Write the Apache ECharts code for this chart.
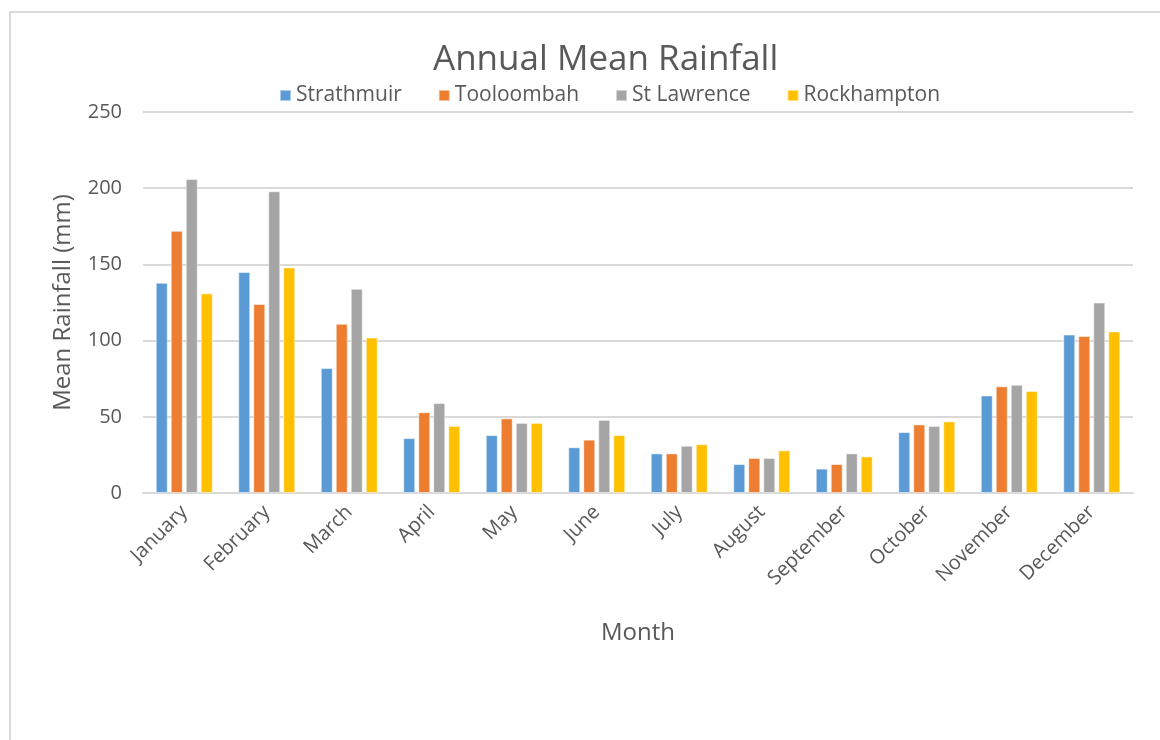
<!DOCTYPE html>
<html>
<head>
<meta charset="utf-8">
<script src="https://cdn.jsdelivr.net/npm/echarts@6/dist/echarts.min.js"></script>
<style>
  html, body { margin: 0; padding: 0; background: #fff; }
  .frame {
    position: absolute; left: 9px; top: 11px; width: 1160px; height: 740px;
    border-left: 2px solid #d9d9d9; border-top: 2px solid #d9d9d9;
  }
  #chart { position: absolute; left: 0; top: 0; width: 1160px; height: 740px; }
</style>
</head>
<body>
<div class="frame"></div>
<div id="chart"></div>
<script>
// 月份
const months = ['January', 'February', 'March', 'April', 'May', 'June',
  'July', 'August', 'September', 'October', 'November', 'December'];
// 各站点月均降雨 (mm)
const strathmuir = [138, 145, 82, 36, 38, 30, 26, 19, 16, 40, 64, 104];
const tooloombah = [172, 124, 111, 53, 49, 35, 26, 23, 19, 45, 70, 103];
const stLawrence = [206, 198, 134, 59, 46, 48, 31, 23, 26, 44, 71, 125];
const rockhampton = [131, 148, 102, 44, 46, 38, 32, 28, 24, 47, 67, 106];
const yTicks = [0, 50, 100, 150, 200, 250];

const textColor = '#595959';
const font = 'Open Sans';

const chart = echarts.init(document.getElementById('chart'));

function bar(name, data, color) {
  return {
    name: name,
    type: 'bar',
    data: data,
    barWidth: 12,
    barGap: '25%',
    itemStyle: { color: color, borderColor: 'rgba(255,255,255,0.5)', borderWidth: 1 }
  };
}

const option = {
  animation: false,
  title: {
    text: 'Annual Mean Rainfall',
    left: 428,
    top: 38,
    textStyle: { color: textColor, fontSize: 35, fontWeight: 'normal', fontFamily: font }
  },
  legend: {
    top: 80,
    left: 274,
    itemWidth: 11,
    itemHeight: 11,
    itemGap: 36,
    icon: 'rect',
    textStyle: { color: textColor, fontSize: 21, fontFamily: font }
  },
  grid: { left: 143, right: 27, top: 112, bottom: 247 },
  xAxis: {
    type: 'category',
    data: months,
    name: 'Month',
    nameLocation: 'middle',
    nameGap: 128,
    nameTextStyle: { color: textColor, fontSize: 24, fontFamily: font },
    axisTick: { show: false },
    axisLine: { lineStyle: { color: '#d9d9d9', width: 2 } },
    axisLabel: { rotate: 45, color: textColor, fontSize: 20, fontFamily: font, margin: 16 }
  },
  yAxis: {
    type: 'value',
    min: yTicks[0],
    max: yTicks[yTicks.length - 1],
    interval: 50,
    name: 'Mean Rainfall (mm)',
    nameLocation: 'middle',
    nameGap: 68,
    nameTextStyle: { color: textColor, fontSize: 24, fontFamily: font },
    axisLine: { show: false },
    axisTick: { show: false },
    axisLabel: { color: textColor, fontSize: 20, fontFamily: font, margin: 21 },
    splitLine: { lineStyle: { color: '#d9d9d9', width: 2 } }
  },
  series: [
    bar('Strathmuir', strathmuir, '#5B9BD5'),
    bar('Tooloombah', tooloombah, '#ED7D31'),
    bar('St Lawrence', stLawrence, '#A5A5A5'),
    bar('Rockhampton', rockhampton, '#FFC000')
  ]
};

chart.setOption(option);
</script>
</body>
</html>
